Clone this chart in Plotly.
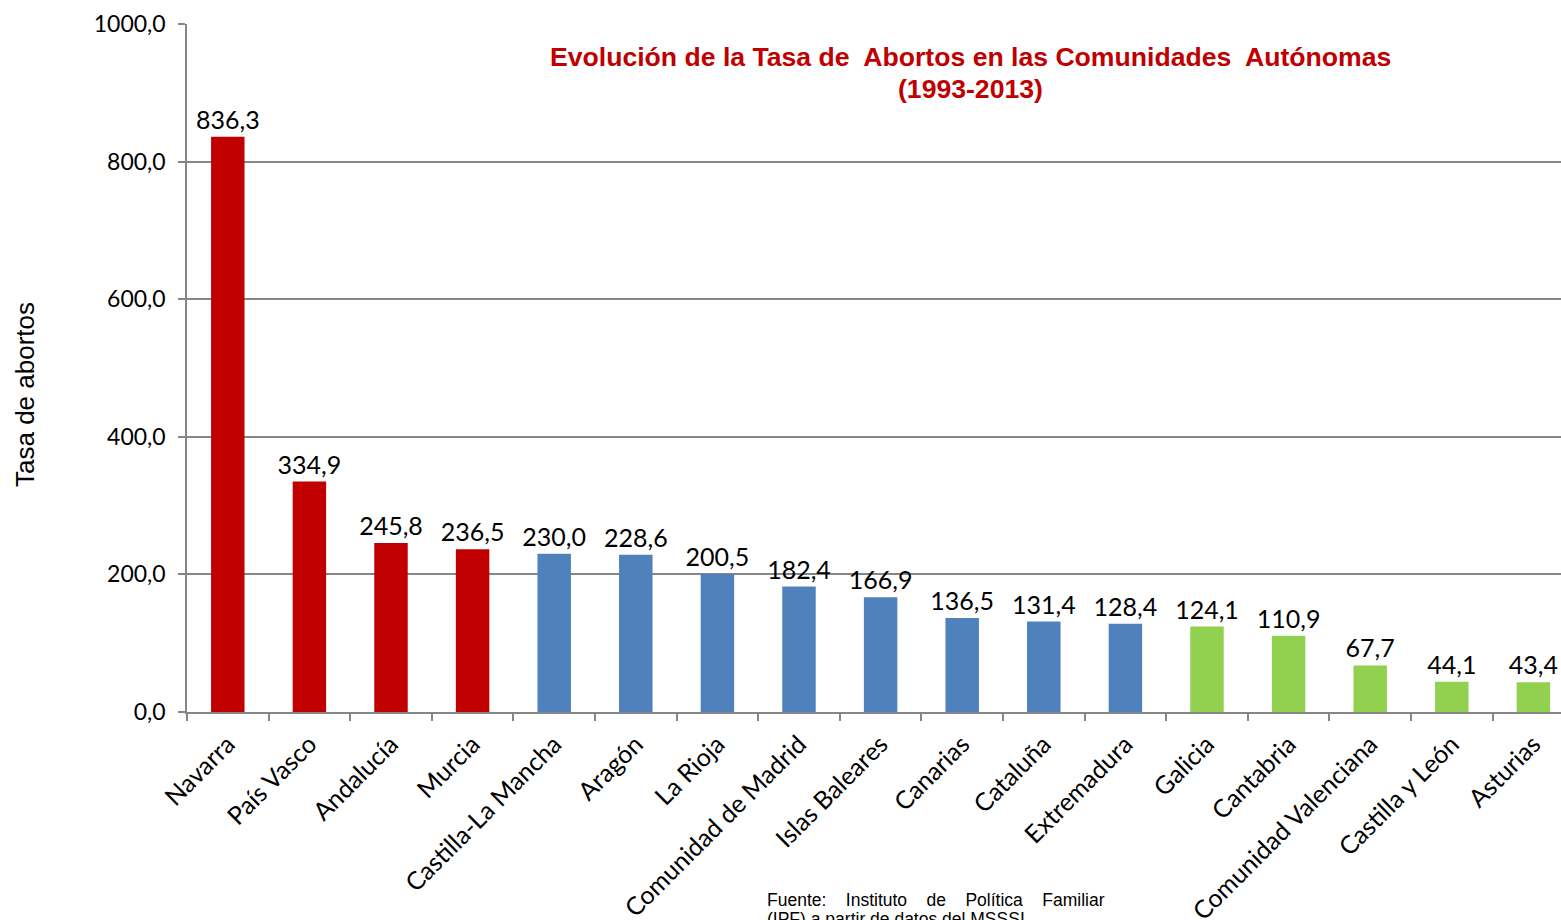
import plotly.graph_objects as go

categories = ["Navarra", "País Vasco", "Andalucía", "Murcia", "Castilla-La Mancha", "Aragón",
              "La Rioja", "Comunidad de Madrid", "Islas Baleares", "Canarias", "Cataluña",
              "Extremadura", "Galicia", "Cantabria", "Comunidad Valenciana", "Castilla y León", "Asturias"]
values = [836.3, 334.9, 245.8, 236.5, 230.0, 228.6, 200.5, 182.4, 166.9, 136.5, 131.4,
          128.4, 124.1, 110.9, 67.7, 44.1, 43.4]
groups = ["high"] * 4 + ["mid"] * 8 + ["low"] * 5
group_colors = {"high": "#C00000", "mid": "#4F81BD", "low": "#92D050"}
colors = [group_colors[g] for g in groups]

W, H = 1561, 920
L, T, R, B = 187, 24, 0, 920 - 712
pw = W - L - R
ph = H - T - B
CAT_PX = 81.6  # category spacing in the reference (plot runs past the right edge)

def px_x(p):
    return (p - L) / pw

def px_y(p):
    return (H - B - p) / ph

fig = go.Figure()
fig.add_trace(go.Bar(
    x=categories, y=values, marker=dict(color=colors, line=dict(width=0)),
    width=0.41,
    text=values, texttemplate="%{y:.1f}", textposition="outside", cliponaxis=False,
    constraintext="none",
    textfont=dict(family="Lato, Open Sans", size=25, color="#000000"),
    hoverinfo="skip",
))

fig.update_layout(
    width=W, height=H,
    margin=dict(l=L, r=R, t=T, b=B, autoexpand=False),
    paper_bgcolor="white", plot_bgcolor="white",
    separators=",.",
    showlegend=False,
    font=dict(family="Lato, Open Sans", color="#000000"),
    xaxis=dict(
        range=[-0.5, -0.5 + pw / CAT_PX],
        tickangle=-45, tickson="boundaries", ticks="outside", ticklen=7,
        tickcolor="#868686", tickwidth=1.5,
        showline=True, linecolor="#868686", linewidth=1.5, showgrid=False,
        tickfont=dict(family="Lato, Open Sans", size=25, color="#000000"),
        ticklabelstandoff=6, automargin=False,
    ),
    yaxis=dict(
        range=[0, 1000], dtick=200, tickformat=".1f",
        ticks="outside", ticklen=7, tickcolor="#868686", tickwidth=1.5,
        showline=True, linecolor="#868686", linewidth=1.5,
        showgrid=True, gridcolor="#868686", gridwidth=1.5, zeroline=False,
        tickfont=dict(family="Lato, Open Sans", size=23, color="#000000"),
        ticklabelstandoff=8, automargin=False,
    ),
)

fig.add_annotation(
    text="<b>Evolución de la Tasa de  Abortos en las Comunidades  Autónomas</b>",
    xref="paper", yref="paper", x=px_x(970), y=px_y(57), xanchor="center", yanchor="middle",
    showarrow=False, font=dict(family="Liberation Sans, Arial", size=26.6, color="#C00000"),
)
fig.add_annotation(
    text="<b>(1993-2013)</b>",
    xref="paper", yref="paper", x=px_x(970), y=px_y(89), xanchor="center", yanchor="middle",
    showarrow=False, font=dict(family="Liberation Sans, Arial", size=26.6, color="#C00000"),
)
fig.add_annotation(
    text="Tasa de abortos",
    xref="paper", yref="paper", x=px_x(25), y=px_y(395), xanchor="center", yanchor="middle",
    textangle=-90, showarrow=False,
    font=dict(family="Liberation Sans, Arial", size=26, color="#000000"),
)
fig.add_annotation(
    text="Fuente:&nbsp;&nbsp;&nbsp;&nbsp;Instituto&nbsp;&nbsp;&nbsp;&nbsp;de&nbsp;&nbsp;&nbsp;&nbsp;Política&nbsp;&nbsp;&nbsp;&nbsp;Familiar",
    xref="paper", yref="paper", x=px_x(765), y=px_y(900), xanchor="left", yanchor="middle",
    align="left", showarrow=False,
    font=dict(family="Liberation Sans, Arial", size=17.5, color="#000000"),
)
fig.add_annotation(
    text="(IPF) a partir de datos del MSSSI",
    xref="paper", yref="paper", x=px_x(765), y=px_y(919), xanchor="left", yanchor="middle",
    align="left", showarrow=False,
    font=dict(family="Liberation Sans, Arial", size=17.5, color="#000000"),
)

fig.write_html(
    "out.html",
    config={"displayModeBar": False},
    post_script="document.body.style.margin='0';document.body.style.overflow='hidden';",
)
